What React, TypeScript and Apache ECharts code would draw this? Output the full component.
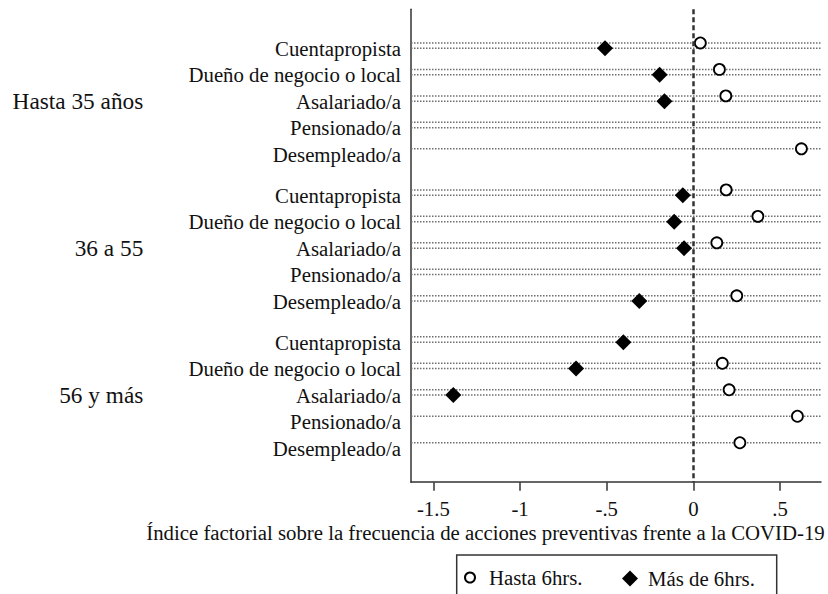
import React, { useEffect, useRef } from "react";
import * as echarts from "echarts";

const rowLabels = ["Cuentapropista", "Dueño de negocio o local", "Asalariado/a", "Pensionado/a", "Desempleado/a"];
const groupLabels = ["Hasta 35 años", "36 a 55", "56 y más"];
// values per row: group 1 rows, then group 2, then group 3
const hasta6 = [0.04, 0.15, 0.187, null, 0.623, 0.189, 0.372, 0.135, null, 0.25, null, 0.167, 0.206, 0.6, 0.268];
const mas6 = [-0.51, -0.195, -0.167, null, null, -0.061, -0.111, -0.054, null, -0.312, -0.404, -0.677, -1.385, null, null];
// whether the dotted guide line of each series is drawn on a row
const hasta6Line = [1, 1, 1, 1, 1, 1, 1, 1, 1, 1, 1, 1, 1, 1, 1];
const mas6Line = [1, 1, 1, 1, 0, 1, 1, 1, 1, 1, 1, 1, 1, 0, 0];
const xTickValues = [-1.5, -1, -0.5, 0, 0.5];
const xTickLabels = ["-1.5", "-1", "-.5", "0", ".5"];
const xTitle = "Índice factorial sobre la frecuencia de acciones preventivas frente a la COVID-19";
const seriesNames = ["Hasta 6hrs.", "Más de 6hrs."];

const GROUP_STEP = 5.55;
const CIRCLE_OFFSET = -0.2;
const FONT = "serif";
const FS = 20.8;
const FS_GROUP = 23.3;

export default function App() {
  const ref = useRef<HTMLDivElement>(null);
  useEffect(() => {
    if (!ref.current) return;
    const chart = echarts.init(ref.current, null, { renderer: "svg" });

    const rowPos: number[] = [];
    const rowText: string[] = [];
    groupLabels.forEach((_, g) => {
      rowLabels.forEach((r, i) => {
        rowPos.push(g * GROUP_STEP + i);
        rowText.push(r);
      });
    });
    const groupPos = groupLabels.map((_, g) => g * GROUP_STEP + 2);

    const circleData: any[] = [];
    const diamondData: any[] = [];
    const lineData: any[] = [];
    rowPos.forEach((p, k) => {
      if (hasta6[k] !== null) circleData.push([hasta6[k], p + CIRCLE_OFFSET]);
      if (mas6[k] !== null) diamondData.push([mas6[k], p]);
      if (hasta6Line[k]) lineData.push([0, p + CIRCLE_OFFSET]);
      if (mas6Line[k]) lineData.push([0, p]);
    });

    const findLabel = (arr: number[], texts: string[], v: number) => {
      let best = 0;
      let bd = Infinity;
      arr.forEach((a, i) => {
        const d = Math.abs(a - v);
        if (d < bd) {
          bd = d;
          best = i;
        }
      });
      return texts[best];
    };

    const yMin = -1.47;
    const yMax = 16.39;

    chart.setOption({
      animation: false,
      backgroundColor: "#fff",
      textStyle: { fontFamily: FONT },
      grid: { left: 411, right: 7, top: 9.3, bottom: 111.8, containLabel: false },
      xAxis: {
        type: "value",
        min: -1.629,
        max: 0.736,
        axisLine: { show: true, onZero: false, lineStyle: { color: "#333", width: 1.5 } },
        axisTick: {
          show: true,
          customValues: xTickValues,
          length: 8.5,
          lineStyle: { color: "#333", width: 1.5 },
        },
        axisLabel: {
          customValues: xTickValues,
          margin: 16,
          color: "#111",
          fontSize: FS,
          fontFamily: FONT,
          formatter: (v: number) => {
            const i = xTickValues.findIndex((t) => Math.abs(t - v) < 1e-9);
            return i >= 0 ? xTickLabels[i] : "";
          },
        },
        splitLine: { show: false },
      },
      yAxis: [
        {
          type: "value",
          inverse: true,
          min: yMin,
          max: yMax,
          position: "left",
          axisLine: { show: true, onZero: false, lineStyle: { color: "#333", width: 1.5 } },
          axisTick: { show: false },
          splitLine: { show: false },
          axisLabel: {
            customValues: rowPos,
            margin: 10,
            color: "#111",
            fontSize: FS,
            fontFamily: FONT,
            formatter: (v: number) => findLabel(rowPos, rowText, v),
          },
        },
        {
          type: "value",
          inverse: true,
          min: yMin,
          max: yMax,
          position: "left",
          offset: 257.7,
          axisLine: { show: false, onZero: false },
          axisTick: { show: false },
          splitLine: { show: false },
          axisLabel: {
            customValues: groupPos,
            margin: 10,
            color: "#111",
            fontSize: FS_GROUP,
            fontFamily: FONT,
            formatter: (v: number) => findLabel(groupPos, groupLabels, v),
          },
        },
      ],
      legend: [
        {
          data: [seriesNames[0]],
          left: 464,
          top: 567,
          padding: 0,
          itemWidth: 28,
          itemHeight: 10,
          textStyle: { fontSize: FS, color: "#111", fontFamily: FONT },
          selectedMode: false,
        },
        {
          data: [seriesNames[1]],
          left: 622,
          top: 568,
          padding: 0,
          itemWidth: 16,
          itemHeight: 16,
          textStyle: { fontSize: FS, color: "#111", fontFamily: FONT, padding: [0, 0, 0, 5] },
          selectedMode: false,
        },
      ],
      graphic: [
        {
          type: "text",
          x: 485.5,
          y: 532,
          style: {
            text: xTitle,
            fontSize: FS,
            fontFamily: FONT,
            fill: "#111",
            textAlign: "center",
            textVerticalAlign: "middle",
          },
        },
        {
          type: "rect",
          shape: { x: 456.7, y: 555, width: 320, height: 60 },
          style: { fill: "none", stroke: "#333", lineWidth: 1.5 },
        },
      ],
      series: [
        {
          type: "custom",
          name: "guides",
          z: 1,
          silent: true,
          data: lineData,
          renderItem: (params: any, api: any) => {
            const y = api.coord([0, api.value(1)])[1];
            const cs = params.coordSys;
            return {
              type: "line",
              shape: { x1: cs.x, y1: y, x2: cs.x + cs.width, y2: y },
              style: { stroke: "#6e6e6e", lineWidth: 1.5, lineDash: [1.5, 1.5] },
            };
          },
        },
        {
          type: "scatter",
          name: seriesNames[0],
          z: 4,
          symbol: "circle",
          symbolSize: 11,
          itemStyle: { color: "#fff", borderColor: "#000", borderWidth: 1.8, opacity: 1 },
          data: circleData,
        },
        {
          type: "scatter",
          name: seriesNames[1],
          z: 3,
          symbol: "diamond",
          symbolSize: 16,
          itemStyle: { color: "#000", opacity: 1 },
          data: diamondData,
          markLine: {
            silent: true,
            symbol: "none",
            label: { show: false },
            lineStyle: { type: [5, 3], width: 2.5, color: "#333" },
            data: [{ xAxis: 0 }],
          },
        },
      ],
    });
    return () => chart.dispose();
  }, []);
  return <div ref={ref} style={{ position: "absolute", left: 0, top: 0, width: 828, height: 594 }} />;
}
